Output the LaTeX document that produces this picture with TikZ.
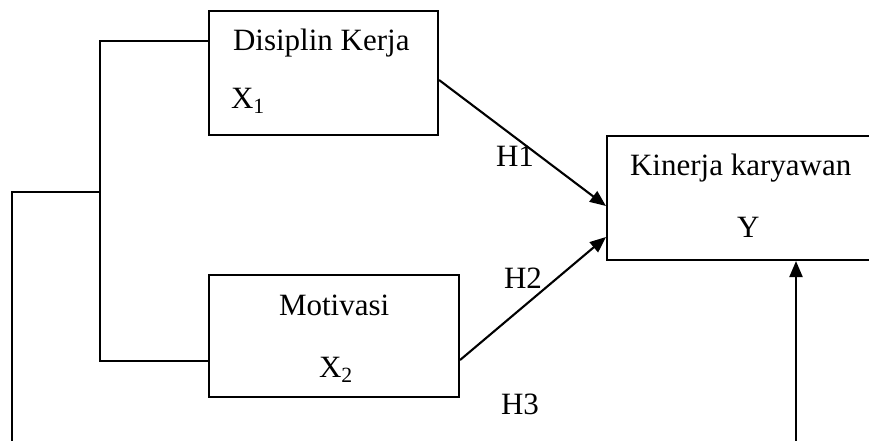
\documentclass[tikz,border=0pt]{standalone}
\usepackage{fontspec}
\setmainfont{Liberation Serif}
\usetikzlibrary{arrows.meta}
\begin{document}
\begin{tikzpicture}[x=1pt,y=-1pt,
  line width=2.1pt,
  box/.style={draw, rectangle, inner sep=0pt},
  lbl/.style={anchor=base west, inner sep=0pt, font=\fontsize{31}{37}\selectfont},
  arr/.style={-{Triangle[length=16pt,width=13pt]}}]
\useasboundingbox (0,0) rectangle (869,440);
\clip (0,0) rectangle (869,440);
% boxes
\node[box, minimum width=229pt, minimum height=124pt] (b1) at (323.5,73) {};
\node[box, minimum width=250pt, minimum height=122pt] (b2) at (334,336) {};
\node[box, minimum width=268pt, minimum height=124pt] (y) at (741,198) {};
% texts
\node[lbl] (t1) at (232,50) {Disiplin Kerja};
\node[lbl] (x1) at (230,108) {X\textsubscript{1}};
\node[lbl] (t2) at (278,315) {Motivasi};
\node[lbl] (x2) at (318,377) {X\textsubscript{2}};
\node[lbl] (ty) at (629,175) {Kinerja karyawan};
\node[lbl] (yy) at (736,237) {Y};
\node[lbl] (h1) at (495,166) {H1};
\node[lbl] (h2) at (503,288) {H2};
\node[lbl] (h3) at (500,414) {H3};
% bracket connectors
\coordinate (j1) at (100,41);
\coordinate (j2) at (100,361);
\coordinate (jm) at (100,192);
\coordinate (l1) at (12,192);
\coordinate (l2) at (12,445);
\draw (j1 -| b1.west) -- (j1) -- (j2) -- (j2 -| b2.west);
\draw (jm) -- (l1) -- (l2);
% arrows
\draw[arr] ([yshift=-7pt]b1.east) -- ([yshift=-8pt]y.west);
\draw[arr] ([yshift=-24pt]b2.east) -- ([yshift=-39pt]y.west);
\coordinate (a0) at (796,445);
\draw[arr] (a0) -- (a0 |- y.south);
\end{tikzpicture}
\end{document}
